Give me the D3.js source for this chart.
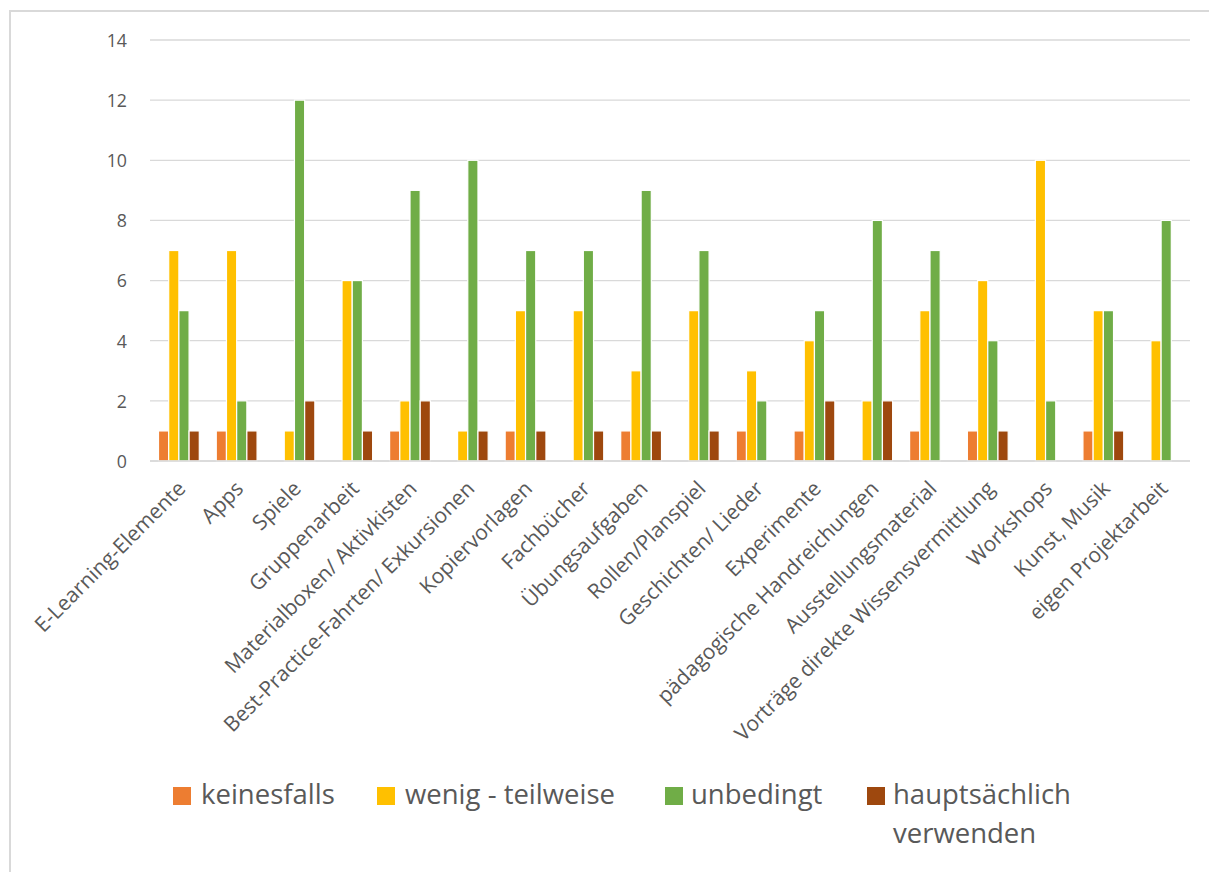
<!DOCTYPE html>
<html><head><meta charset="utf-8">
<script src="https://cdn.jsdelivr.net/npm/d3@7"></script>
<style>
html,body{margin:0;padding:0;background:#fff;}
text{font-family:"Open Sans", sans-serif;}
</style></head>
<body>
<svg id="c" width="1209" height="872"></svg>
<script>
const categories = ["E-Learning-Elemente","Apps","Spiele","Gruppenarbeit","Materialboxen/ Aktivkisten","Best-Practice-Fahrten/ Exkursionen","Kopiervorlagen","Fachbücher","Übungsaufgaben","Rollen/Planspiel","Geschichten/ Lieder","Experimente","pädagogische Handreichungen","Ausstellungsmaterial","Vorträge direkte Wissensvermittlung","Workshops","Kunst, Musik","eigen Projektarbeit"];
const seriesNames = ["keinesfalls","wenig - teilweise","unbedingt","hauptsächlich verwenden"];
const keinesfalls   = [1,1,0,0,1,0,1,0,1,0,1,1,0,1,1,0,1,0];
const wenigTeilweise= [7,7,1,6,2,1,5,5,3,5,3,4,2,5,6,10,5,4];
const unbedingt     = [5,2,12,6,9,10,7,7,9,7,2,5,8,7,4,2,5,8];
const hauptsaechlich= [1,1,2,1,2,1,1,1,1,1,0,2,2,0,1,0,1,0];
const yTicks = [0,2,4,6,8,10,12,14];
const colors = ["#ED7D31","#FFC000","#70AD47","#9E480E"];
const seriesValues = [keinesfalls, wenigTeilweise, unbedingt, hauptsaechlich];

const svg = d3.select("#c");
// chart border
svg.append("rect").attr("x",10).attr("y",11).attr("width",1220).attr("height",880)
  .attr("fill","none").attr("stroke","#d9d9d9").attr("stroke-width",2);

const x0 = d3.scaleBand().domain(categories).range([150,1190]).paddingInner(0).paddingOuter(0);
const bw = x0.bandwidth();
const x1 = d3.scaleBand().domain(d3.range(4)).range([(bw-40.8)/2,(bw+40.8)/2]);
const y = d3.scaleLinear().domain([0,14]).range([461,40]);

// gridlines
svg.append("g").selectAll("line").data(yTicks).join("line")
  .attr("x1",150).attr("x2",1190).attr("y1",d=>y(d)).attr("y2",d=>y(d))
  .attr("stroke","#d9d9d9").attr("stroke-width",1.3);

// y axis labels
const yAxis = d3.axisLeft(y).tickValues(yTicks).tickSize(0).tickPadding(0);
const gy = svg.append("g").attr("transform","translate(127,0)").call(yAxis);
gy.select(".domain").remove();
gy.selectAll("text").attr("font-size",17.8).attr("fill","#595959").attr("font-family","Open Sans").attr("dy","0.36em");

// bars
const groups = svg.append("g").selectAll("g").data(categories).join("g")
  .attr("transform",d=>`translate(${x0(d)},0)`);
groups.selectAll("rect").data((d,i)=>seriesValues.map((s,k)=>({k,v:s[i]})).filter(e=>e.v>0)).join("rect")
  .attr("x",e=>x1(e.k)).attr("width",x1.bandwidth())
  .attr("y",e=>y(e.v)).attr("height",e=>y(0)-y(e.v))
  .attr("fill",e=>colors[e.k]).attr("stroke","#fff").attr("stroke-width",1.2);

// x axis line
svg.append("line").attr("x1",150).attr("x2",1190).attr("y1",y(0)).attr("y2",y(0))
  .attr("stroke","#d9d9d9").attr("stroke-width",1.5);

// x labels
svg.append("g").selectAll("text").data(categories).join("text")
  .attr("transform",d=>`translate(${x0(d)+bw/2+8},${y(0)+29}) rotate(-45)`)
  .attr("text-anchor","end").attr("font-size",21).attr("fill","#595959").text(d=>d);

// legend
const legendItems = [
  {x:173, tx:201, lines:["keinesfalls"]},
  {x:377, tx:405, lines:["wenig - teilweise"]},
  {x:665, tx:691, lines:["unbedingt"]},
  {x:867, tx:893, lines:["hauptsächlich","verwenden"]}
];
const lg = svg.append("g").selectAll("g").data(legendItems).join("g");
lg.append("rect").attr("x",d=>d.x).attr("y",787).attr("width",18).attr("height",18)
  .attr("fill",(d,i)=>colors[i]);
lg.each(function(d,i){
  const t = d3.select(this).append("text").attr("x",d.tx).attr("y",804).attr("font-size",27.5).attr("fill","#595959");
  d.lines.forEach((l,j)=>t.append("tspan").attr("x",d.tx).attr("dy",j?39:0).text(l));
});
</script>
</body></html>
